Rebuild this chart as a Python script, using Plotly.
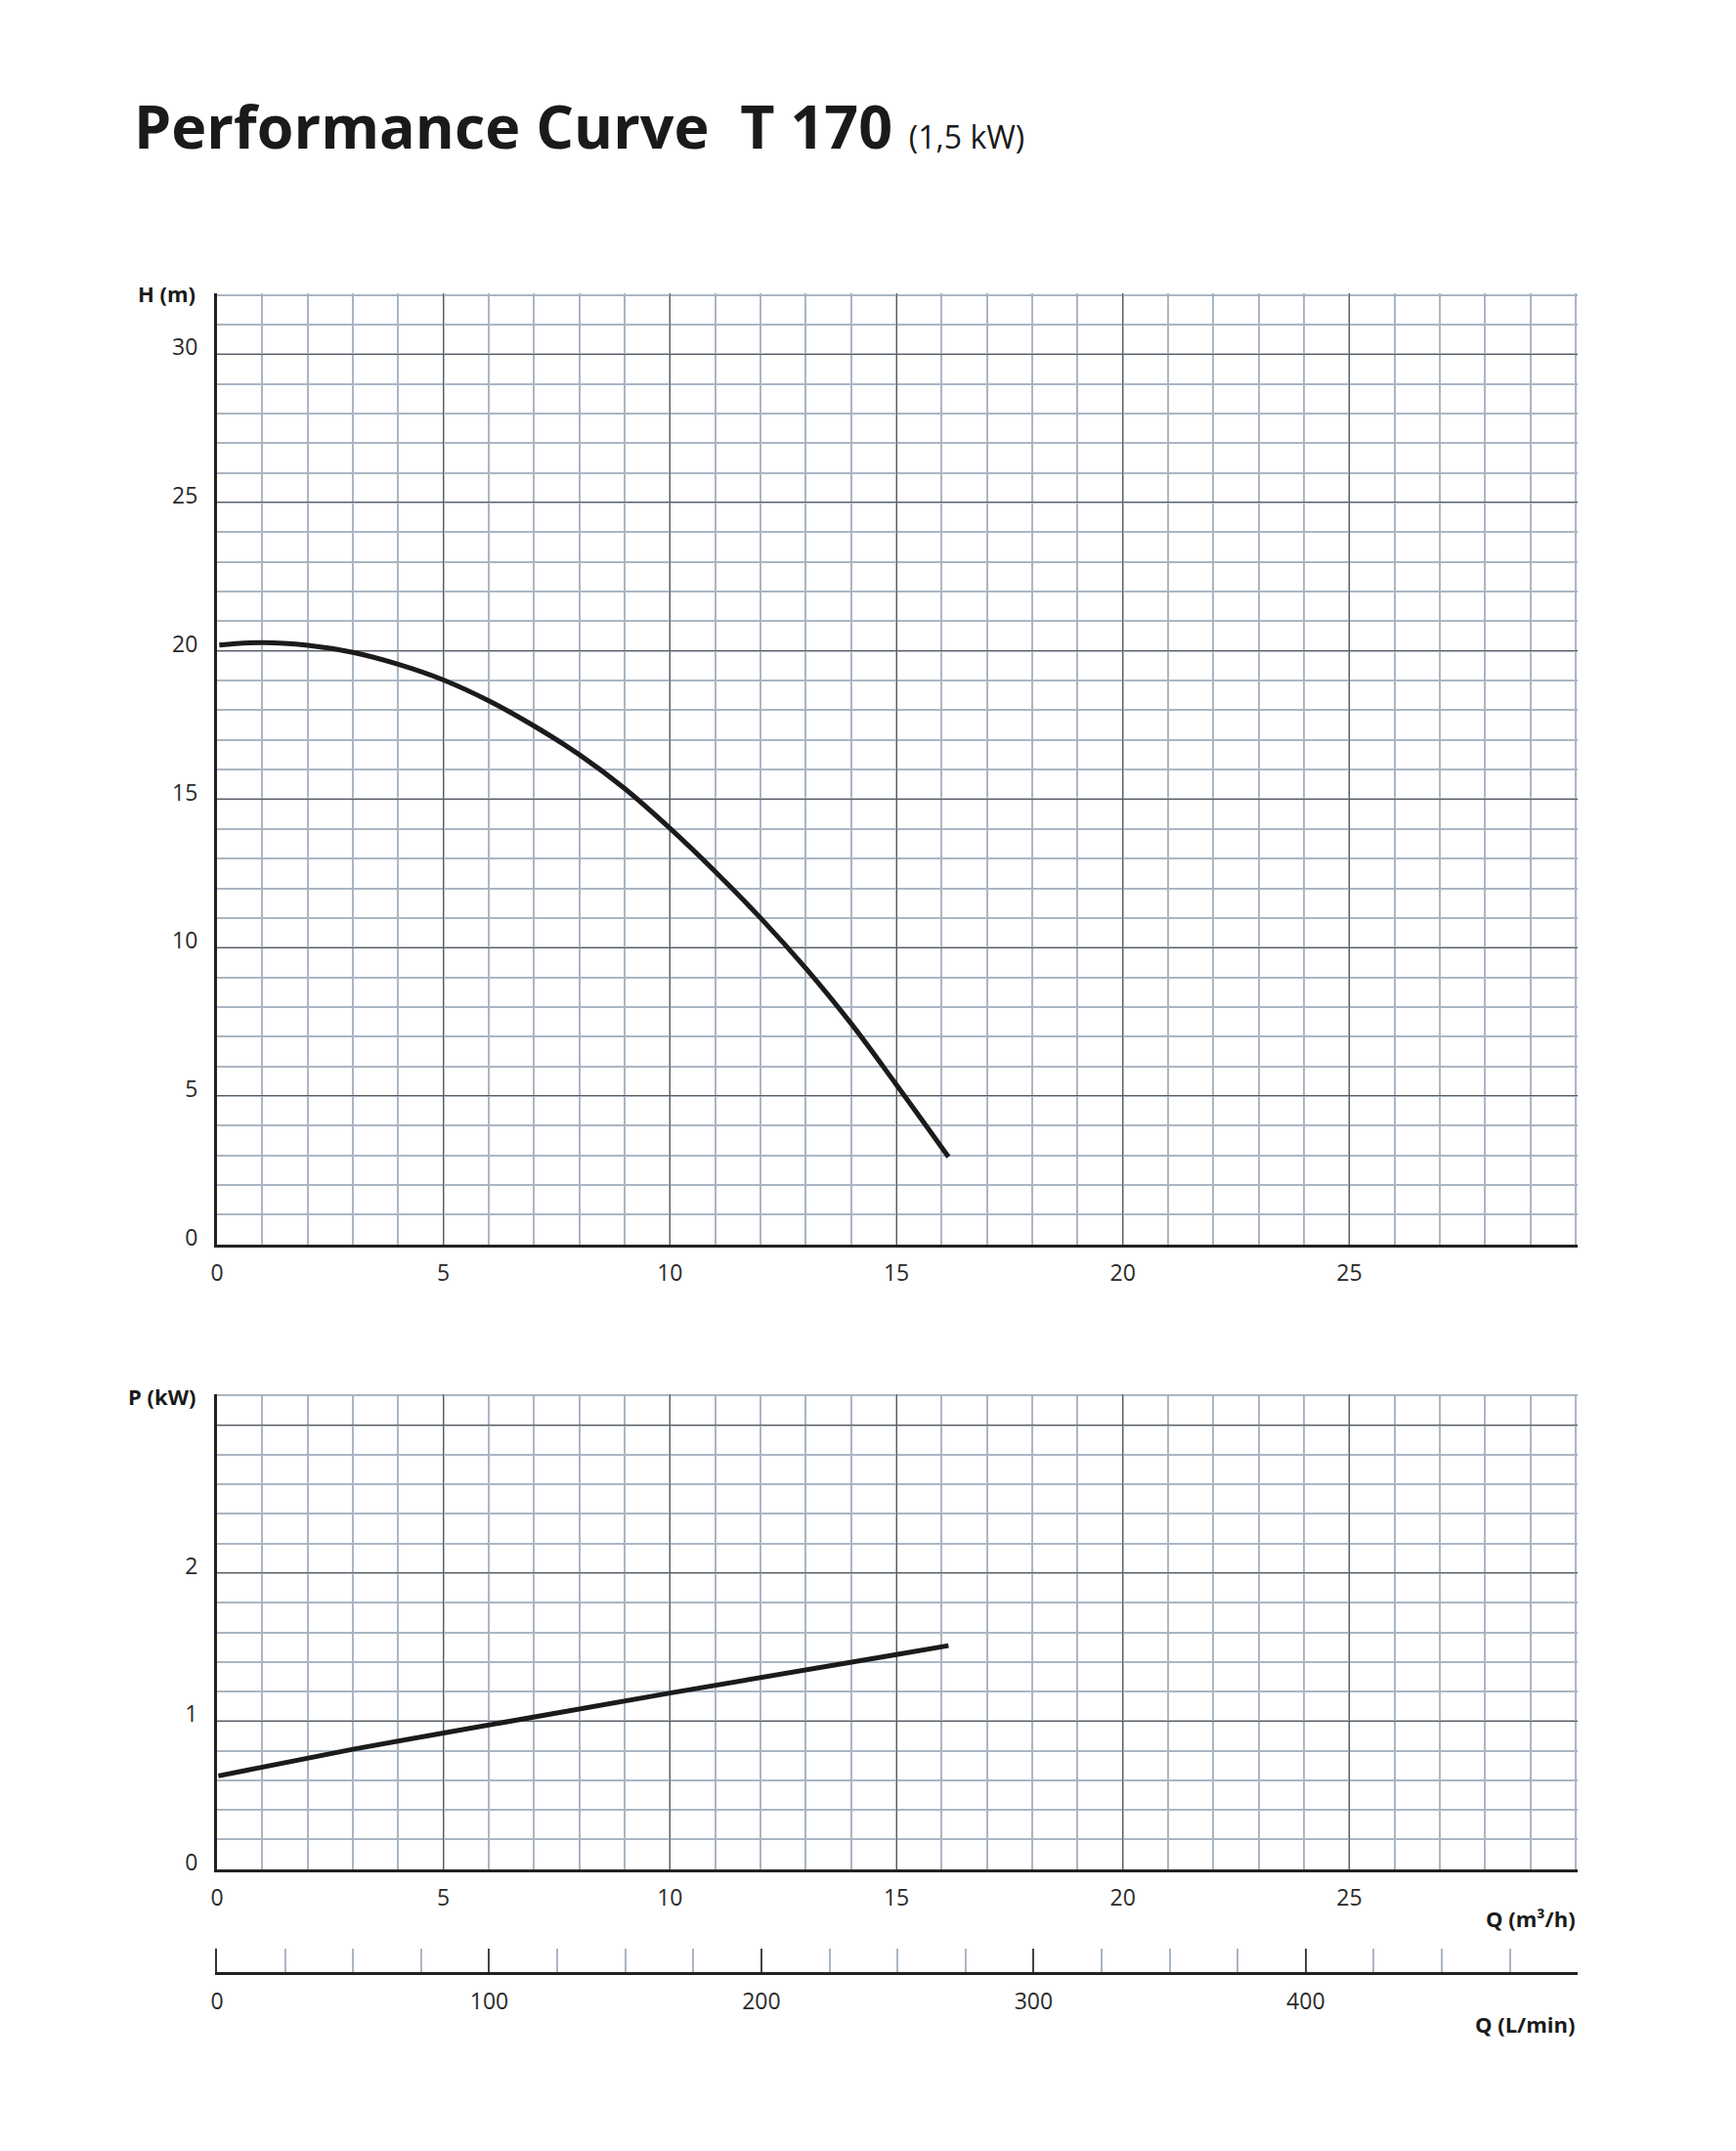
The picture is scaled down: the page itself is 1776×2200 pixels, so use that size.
import plotly.graph_objects as go
from plotly.subplots import make_subplots

FIG_WIDTH = 1776
FIG_HEIGHT = 2200
PAGE_OFFSET = 8  # default body margin of the html page
FONT = "Open Sans"
CURVE_COLOR = "#1b1b1b"
AXIS_COLOR = "#222222"
MAJOR_GRID = "#5c5c5c"
MINOR_GRID = "#aab6c4"
TEXT_COLOR = "#2a2a2a"
LMIN_TICK_LEN = 24

# screenshot pixel box of the plotting area (left, right, top, bottom of L/min axis)
_LEFT, _RIGHT, _TOP, _BOTTOM = 222, 1614, 300, 2017

# flow in m3/h and head in m
flow_head = [0.05, 1, 2, 3, 4, 5, 6, 7, 8, 9, 10, 11, 12, 13, 14, 15, 16.15]
head = [20.2, 20.28, 20.19, 19.95, 19.55, 19.02, 18.32, 17.47, 16.5, 15.36,
        14.02, 12.56, 11.0, 9.3, 7.44, 5.38, 2.95]

# flow in m3/h and absorbed power in kW
flow_power = [0.03, 1, 3, 5, 10, 15, 16.15]
power = [0.63, 0.69, 0.81, 0.92, 1.19, 1.45, 1.51]

# tick labels
q_ticks = [0, 5, 10, 15, 20, 25]
h_ticks = [0, 5, 10, 15, 20, 25, 30]
p_ticks = [0, 1, 2, 3]
p_labels = ["0", "1", "2", ""]
lmin_ticks = [0, 100, 200, 300, 400]


def _px_x(x: float) -> float:
    """Screenshot pixel x to paper x."""
    return (x - _LEFT) / (_RIGHT - _LEFT)


def _px_y(y: float) -> float:
    """Screenshot pixel y to paper y."""
    return (_BOTTOM - y) / (_BOTTOM - _TOP)


def _label(text: str, x: float, y: float, anchor: str = "right") -> dict:
    return dict(
        text=f"<b>{text}</b>",
        x=_px_x(x),
        y=_px_y(y),
        xref="paper",
        yref="paper",
        xanchor=anchor,
        yanchor="middle",
        showarrow=False,
        font=dict(family=FONT, size=22, color="#1a1a1a"),
    )


def main() -> None:
    fig = make_subplots(rows=3, cols=1)

    # head curve
    fig.add_trace(
        go.Scatter(x=flow_head, y=head, mode="lines", line_shape="spline",
                   line=dict(color=CURVE_COLOR, width=5)),
        row=1, col=1,
    )
    # power curve
    fig.add_trace(
        go.Scatter(x=flow_power, y=power, mode="lines",
                   line=dict(color=CURVE_COLOR, width=5)),
        row=2, col=1,
    )
    # empty holder so plotly draws the L/min scale
    fig.add_trace(
        go.Scatter(x=lmin_ticks, y=[0] * len(lmin_ticks), mode="markers",
                   marker=dict(opacity=0), hoverinfo="skip"),
        row=3, col=1,
    )

    tick_font = dict(family=FONT, size=23, color=TEXT_COLOR)
    minor_grid = dict(showgrid=True, gridcolor=MINOR_GRID, gridwidth=1.5, tick0=0)
    # ranges run a hair past the last grid line so the outer frame is drawn
    common_x = dict(
        range=[0, 30.04], tickmode="array", tickvals=q_ticks, ticks="",
        showgrid=True, gridcolor=MAJOR_GRID, gridwidth=1.3,
        minor=dict(dtick=1, **minor_grid),
        showline=True, linecolor=AXIS_COLOR, linewidth=3, zeroline=False,
        tickfont=tick_font, ticklabelstandoff=7, fixedrange=True,
    )
    common_y = dict(
        tickmode="array", ticks="", showgrid=True, gridcolor=MAJOR_GRID,
        gridwidth=1.3, showline=True, linecolor=AXIS_COLOR, linewidth=3,
        zeroline=False, tickfont=tick_font, ticklabelstandoff=12,
        ticklabelshift=-7, fixedrange=True,
    )

    fig.update_layout(
        xaxis=dict(domain=[0, 1], anchor="y", **common_x),
        yaxis=dict(domain=[_px_y(1272.7), 1], range=[0, 32.05], tickvals=h_ticks,
                   minor=dict(dtick=1, **minor_grid), **common_y),
        xaxis2=dict(domain=[0, 1], anchor="y2", **common_x),
        yaxis2=dict(domain=[_px_y(1911.7), _px_y(1426)], range=[0, 3.209],
                    tickvals=p_ticks, ticktext=p_labels,
                    minor=dict(dtick=0.2, **minor_grid), **common_y),
        # second flow scale in L/min (30 m3/h = 500 L/min)
        xaxis3=dict(
            domain=[0, 1], anchor="y3", range=[0, 499.9], tickmode="array",
            tickvals=lmin_ticks, ticks="inside", ticklen=LMIN_TICK_LEN,
            tickwidth=1.5, tickcolor="#444444",
            minor=dict(dtick=25, tick0=0, ticks="inside", ticklen=LMIN_TICK_LEN,
                       tickwidth=1.5, tickcolor=MINOR_GRID, showgrid=False),
            showgrid=False, showline=True, linecolor=AXIS_COLOR, linewidth=3,
            zeroline=False, tickfont=tick_font, ticklabelstandoff=7,
            fixedrange=True,
        ),
        # its left line stands in for the tick at 0
        yaxis3=dict(domain=[0, _px_y(_BOTTOM - LMIN_TICK_LEN)], range=[0, 1],
                    showline=True, linecolor="#333333", linewidth=2,
                    showgrid=False, zeroline=False, showticklabels=False,
                    ticks="", fixedrange=True),
        width=FIG_WIDTH,
        height=FIG_HEIGHT,
        margin=dict(
            l=_LEFT - PAGE_OFFSET,
            r=FIG_WIDTH - _RIGHT + PAGE_OFFSET,
            t=_TOP - PAGE_OFFSET,
            b=FIG_HEIGHT - _BOTTOM + PAGE_OFFSET,
        ),
        paper_bgcolor="white",
        plot_bgcolor="white",
        showlegend=False,
        font=dict(family=FONT, color=TEXT_COLOR),
    )

    annotations = [
        dict(
            text="<b>Performance Curve&nbsp;&nbsp;T 170</b>"
                 "<span style='font-size:32px'>&nbsp;&nbsp;(1,5 kW)</span>",
            x=_px_x(135), y=_px_y(128), xref="paper", yref="paper",
            xanchor="left", yanchor="middle", showarrow=False,
            font=dict(family=FONT, size=61, color="#1a1a1a"),
        ),
        _label("H (m)", 202, 300),
        _label("P (kW)", 202, 1428),
        _label("Q (m³/h)", 1614, 1962),
        _label("Q (L/min)", 1613, 2070),
    ]
    fig.update_layout(annotations=annotations)

    fig.write_html("out.html")


if __name__ == "__main__":
    main()
